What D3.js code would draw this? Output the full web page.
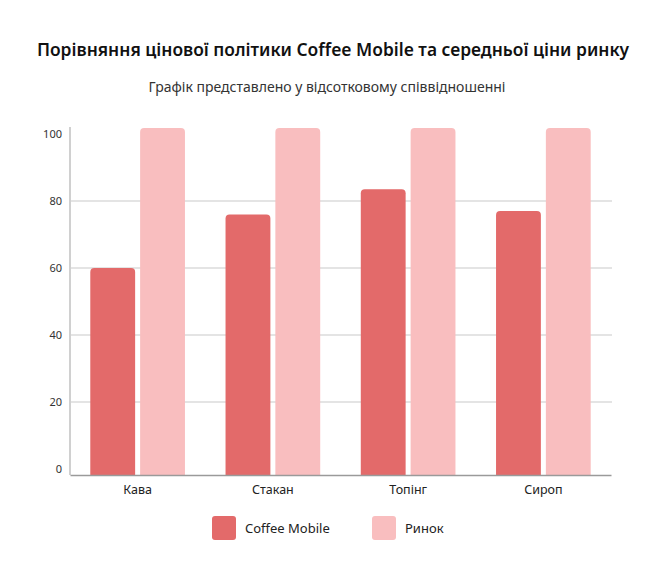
<!DOCTYPE html>
<html>
<head>
<meta charset="utf-8">
<script src="https://cdn.jsdelivr.net/npm/d3@7"></script>
<style>
  body { margin: 0; background: #fff; }
  svg { font-family: "Noto Sans", sans-serif; }
</style>
</head>
<body>
<div id="chart"></div>
<script>
// data
const categories = ["Кава", "Стакан", "Топінг", "Сироп"];
const seriesNames = ["Coffee Mobile", "Ринок"];
const coffeeMobile = [60, 76, 83.5, 77];
const market = [101.8, 101.8, 101.8, 101.8];
const yTicks = [0, 20, 40, 60, 80, 100];

const colors = { "Coffee Mobile": "#e36a6a", "Ринок": "#f9bebf" };

const W = 656, H = 586;
const svg = d3.select("#chart").append("svg")
    .attr("width", W).attr("height", H);

// title + subtitle
svg.append("text")
    .attr("x", 333).attr("y", 56)
    .attr("text-anchor", "middle")
    .attr("font-size", 17.4).attr("font-weight", 600)
    .attr("fill", "#111")
    .text("Порівняння цінової політики Coffee Mobile та середньої ціни ринку");

svg.append("text")
    .attr("x", 327).attr("y", 92)
    .attr("text-anchor", "middle")
    .attr("font-size", 14)
    .attr("fill", "#333")
    .text("Графік представлено у відсотковому співвідношенні");

// scales
const x = d3.scaleBand()
    .domain(categories)
    .range([70, 611])
    .paddingInner(0.3)
    .paddingOuter(0.15);

const xSub = d3.scaleBand()
    .domain(seriesNames)
    .range([0, x.bandwidth()])
    .paddingInner(0.1);

const y = d3.scaleLinear().domain([0, 100]).range([469, 134]);
const baseY = y(0) + 6;

// gridlines (no line at 0 or 100)
svg.append("g")
    .selectAll("line")
    .data(yTicks.filter(d => d > 0 && d < 100))
    .join("line")
    .attr("x1", 70).attr("x2", 612)
    .attr("y1", d => y(d)).attr("y2", d => y(d))
    .attr("stroke", "#c9c9c9").attr("stroke-width", 1);

// y axis
const yAxis = svg.append("g")
    .attr("transform", "translate(70,0)")
    .call(d3.axisLeft(y).tickValues(yTicks).tickSize(0).tickPadding(8));
yAxis.select(".domain").remove();
yAxis.selectAll("text")
    .attr("font-family", "Noto Sans, sans-serif")
    .attr("font-size", 11).attr("fill", "#333");

svg.append("line")
    .attr("x1", 70).attr("x2", 70)
    .attr("y1", y(100) - 7).attr("y2", baseY)
    .attr("stroke", "#d0d0d0").attr("stroke-width", 2);

// bars
const rows = categories.map((c, i) => ({
    cat: c,
    values: [
        { key: "Coffee Mobile", value: coffeeMobile[i] },
        { key: "Ринок", value: market[i] }
    ]
}));

function topRounded(x0, y0, w, h, r) {
    return `M${x0},${y0 + h}V${y0 + r}Q${x0},${y0} ${x0 + r},${y0}` +
        `H${x0 + w - r}Q${x0 + w},${y0} ${x0 + w},${y0 + r}V${y0 + h}Z`;
}

svg.append("g")
    .selectAll("g")
    .data(rows)
    .join("g")
    .attr("transform", d => `translate(${x(d.cat)},0)`)
    .selectAll("path")
    .data(d => d.values)
    .join("path")
    .attr("fill", d => colors[d.key])
    .attr("d", d => topRounded(xSub(d.key), y(d.value), xSub.bandwidth(), baseY - y(d.value), 4));

// x axis
const xAxis = svg.append("g")
    .attr("transform", `translate(0,${baseY})`)
    .call(d3.axisBottom(x).tickSize(0).tickPadding(10));
xAxis.select(".domain").attr("stroke", "#9a9a9a").attr("stroke-width", 1.5);
xAxis.selectAll("text")
    .attr("font-family", "Noto Sans, sans-serif")
    .attr("font-size", 12.5).attr("fill", "#222");

// legend
const legendX = [212, 372];
const legend = svg.append("g")
    .selectAll("g")
    .data(seriesNames)
    .join("g")
    .attr("transform", (d, i) => `translate(${legendX[i]},516)`);
legend.append("rect")
    .attr("width", 24).attr("height", 24).attr("rx", 3)
    .attr("fill", d => colors[d]);
legend.append("text")
    .attr("x", 33).attr("y", 16.5)
    .attr("font-size", 13).attr("fill", "#222")
    .text(d => d);
</script>
</body>
</html>
